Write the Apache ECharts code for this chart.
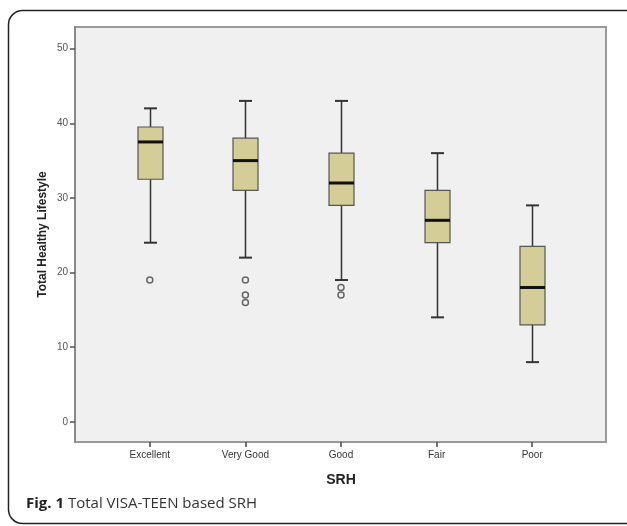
<!DOCTYPE html>
<html><head><meta charset="utf-8">
<script src="https://cdn.jsdelivr.net/npm/echarts@6/dist/echarts.min.js"></script>
<style>html,body{margin:0;padding:0;background:#fff}#c{width:627px;height:526px}</style>
</head><body><div id="c"></div>
<script>
const categories = ['Excellent', 'Very Good', 'Good', 'Fair', 'Poor'];
const whiskerLow = [24, 22, 19, 14, 8];
const q1 = [32.5, 31, 29, 24, 13];
const medians = [37.5, 35, 32, 27, 18];
const q3 = [39.5, 38, 36, 31, 23.5];
const whiskerHigh = [42, 43, 43, 36, 29];
const outlierCategory = [0, 1, 1, 1, 2, 2];
const outlierValues = [19, 19, 17, 16, 18, 17];
const yTicks = [0, 10, 20, 30, 40, 50];

const boxData = categories.map((c, i) => [i, whiskerLow[i], q1[i], medians[i], q3[i], whiskerHigh[i]]);
const outlierData = outlierCategory.map((c, i) => [c, outlierValues[i]]);

const Y_MIN = -2.7, Y_MAX = 52.9;
const chart = echarts.init(document.getElementById('c'), null, {renderer: 'canvas'});
chart.setOption({
  animation: false,
  backgroundColor: '#ffffff',
  grid: [
    {left: 75, right: 21, top: 27, bottom: 84, show: true, backgroundColor: '#f0f0f0', borderColor: '#9a9a9a', borderWidth: 2},
    {left: 102, right: 47, top: 27, bottom: 84}
  ],
  xAxis: [
    {gridIndex: 0, type: 'value', show: false, min: 0, max: 1},
    {gridIndex: 1, type: 'category', data: categories, boundaryGap: true, position: 'bottom',
     axisLine: {show: false, onZero: false},
     axisTick: {show: true, alignWithLabel: true, length: 5, lineStyle: {color: '#444', width: 1.5}},
     axisLabel: {fontSize: 10, color: '#333', margin: 8, fontFamily: 'Liberation Sans'},
     name: 'SRH', nameLocation: 'middle', nameGap: 31,
     nameTextStyle: {fontSize: 14, fontWeight: 'bold', color: '#222', fontFamily: 'Liberation Sans'}}
  ],
  yAxis: [
    {gridIndex: 0, type: 'value', min: Y_MIN, max: Y_MAX,
     axisLine: {show: true, onZero: false, lineStyle: {color: '#888', width: 2}},
     axisTick: {show: true, customValues: yTicks, length: 5, lineStyle: {color: '#555', width: 1.5}},
     axisLabel: {customValues: yTicks, fontSize: 10, color: '#555', margin: 7, fontFamily: 'Liberation Sans'},
     splitLine: {show: false},
     name: 'Total Healthy Lifestyle', nameLocation: 'middle', nameGap: 26, nameMoveOverlap: false,
     nameTextStyle: {fontSize: 12, fontWeight: 'bold', color: '#222', fontFamily: 'Liberation Sans'}},
    {gridIndex: 1, type: 'value', min: Y_MIN, max: Y_MAX, show: false, splitLine: {show: false}}
  ],
  series: [
    {
      type: 'custom', xAxisIndex: 1, yAxisIndex: 1,
      encode: {x: 0, y: [1, 2, 3, 4, 5]},
      data: boxData,
      renderItem: function (params, api) {
        const i = api.value(0);
        const lo = api.coord([i, api.value(1)]);
        const b1 = api.coord([i, api.value(2)]);
        const md = api.coord([i, api.value(3)]);
        const b3 = api.coord([i, api.value(4)]);
        const hi = api.coord([i, api.value(5)]);
        const x = Math.round(lo[0]) + 0.5;
        const bw = 25, cw = 13;
        const wl = {stroke: '#333', lineWidth: 1.5};
        return {type: 'group', children: [
          {type: 'line', shape: {x1: x, y1: hi[1], x2: x, y2: b3[1]}, style: wl},
          {type: 'line', shape: {x1: x, y1: b1[1], x2: x, y2: lo[1]}, style: wl},
          {type: 'line', shape: {x1: x - cw / 2, y1: hi[1], x2: x + cw / 2, y2: hi[1]}, style: {stroke: '#333', lineWidth: 2}},
          {type: 'line', shape: {x1: x - cw / 2, y1: lo[1], x2: x + cw / 2, y2: lo[1]}, style: {stroke: '#333', lineWidth: 2}},
          {type: 'rect', shape: {x: x - bw / 2, y: b3[1], width: bw, height: b1[1] - b3[1]}, style: {fill: '#d5cd98', stroke: '#555', lineWidth: 1.2}},
          {type: 'line', shape: {x1: x - bw / 2, y1: md[1], x2: x + bw / 2, y2: md[1]}, style: {stroke: '#111', lineWidth: 3}}
        ]};
      }
    },
    {
      type: 'scatter', xAxisIndex: 1, yAxisIndex: 1,
      data: outlierData,
      symbol: 'circle', symbolSize: 6,
      itemStyle: {color: 'rgba(0,0,0,0)', borderColor: '#444', borderWidth: 1.5}
    }
  ],
  graphic: [
    {type: 'rect', shape: {x: 8.5, y: 10.5, width: 640, height: 513, r: 14}, style: {fill: 'none', stroke: '#222', lineWidth: 1.5}, z: 100},
    {type: 'text', left: 26, top: 496, z: 100,
     style: {text: '{b|Fig. 1} Total VISA-TEEN based SRH', font: '15px "Open Sans"', fill: '#333',
       rich: {b: {fontWeight: 'bold', fontSize: 15, fontFamily: 'Open Sans', fill: '#222'}}}}
  ]
});
</script>
</body></html>
